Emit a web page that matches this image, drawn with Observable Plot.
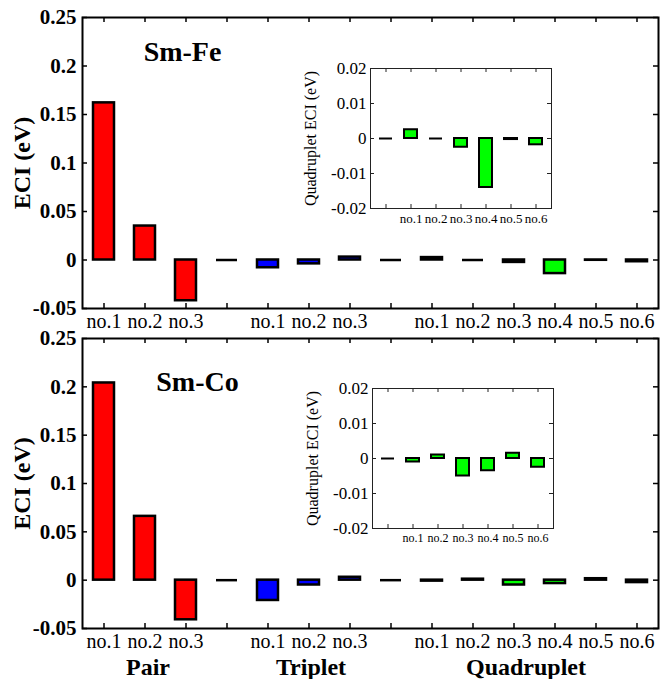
<!DOCTYPE html>
<html><head><meta charset="utf-8">
<script src="https://cdn.jsdelivr.net/npm/d3@7"></script>
<script src="https://cdn.jsdelivr.net/npm/@observablehq/plot@0.6"></script>
<style>
html,body{margin:0;padding:0;background:#fff;}
#chart{position:relative;width:666px;height:679px;}
#chart svg{position:absolute;overflow:visible;background:transparent;}
#chart svg, #chart svg text, #chart svg g{font-family:"Liberation Serif", "Times New Roman", Times, serif !important;}
</style>
</head><body>
<div id="chart"></div>
<script>
// ---- data ----
const keys = ["P1","P2","P3","G1","T1","T2","T3","G2","Q1","Q2","Q3","Q4","Q5","Q6"];
const tickLabels = ["no.1","no.2","no.3","","no.1","no.2","no.3","","no.1","no.2","no.3","no.4","no.5","no.6"];
const groups = ["Pair","Pair","Pair","gap","Triplet","Triplet","Triplet","gap","Quadruplet","Quadruplet","Quadruplet","Quadruplet","Quadruplet","Quadruplet"];
const smFeECI = [0.162, 0.035, -0.042, 0, -0.008, -0.004, 0.003, 0, 0.0025, 0, -0.0025, -0.014, -0.0003, -0.0018];
const smCoECI = [0.204, 0.066, -0.041, 0, -0.021, -0.005, 0.003, 0, -0.001, 0.001, -0.005, -0.0035, 0.0015, -0.0025];
const groupNames = ["Pair","Triplet","Quadruplet"];
const groupAnchors = ["P2","T2","Q3"];
const groupColors = ["#ff0000","#0000ff","#00ff00"];
const yTicks = [-0.05, 0, 0.05, 0.1, 0.15, 0.2, 0.25];
const insetKeys = ["G0","Q1","Q2","Q3","Q4","Q5","Q6"];
const insetLabels = ["","no.1","no.2","no.3","no.4","no.5","no.6"];
const insetYTicks = [-0.02, -0.01, 0, 0.01, 0.02];
const panelTitles = ["Sm-Fe","Sm-Co"];
const mainYLabel = "ECI (eV)";
const insetYLabel = "Quadruplet ECI (eV)";

const FONT = "Liberation Serif";
const labelOf = new Map(keys.map((k,i)=>[k, tickLabels[i]]));
const insetLabelOf = new Map(insetKeys.map((k,i)=>[k, insetLabels[i]]));
const color = {domain:[...groupNames,"gap"], range:[...groupColors,"none"]};

function mainPanel({values, title, titleDx, titleDy, top, height, marginTop, marginBottom, groupLabels}) {
  const data = keys.map((k,i)=>({key:k, group:groups[i], value:values[i]}));
  const W = 666, ML = 82, MR = 8;
  const innerH = height - marginTop - marginBottom, innerW = W - ML - MR;
  const tk = {stroke:"black", strokeOpacity:1, strokeWidth:1.5};
  const marks = [
    Plot.gridX({...tk, insetTop: innerH-5}),
    Plot.gridX({...tk, insetBottom: innerH-5}),
    Plot.gridY({...tk, ticks: yTicks, insetRight: innerW-5}),
    Plot.gridY({...tk, ticks: yTicks, insetLeft: innerW-5}),
    Plot.barY(data.filter(d=>d.value!==0), {x:"key", y:"value", fill:"group", stroke:"black", strokeWidth:2.5}),
    Plot.tickY(data.filter(d=>d.value===0), {x:"key", y:"value", stroke:"black", strokeWidth:2.5}),
    Plot.frame({stroke:"black", strokeWidth:2}),
    Plot.axisX({tickSize:0, tickPadding:5, fontSize:20, fontFamily:FONT, tickFormat:k=>labelOf.get(k), label:null}),
    Plot.axisY({ticks:yTicks, tickSize:0, tickPadding:6, fontSize:21, fontWeight:"bold", fontFamily:FONT, tickFormat:d=>String(d), label:null}),
    Plot.text([mainYLabel], {frameAnchor:"left", dx:-60, rotate:-90, fontSize:24, fontWeight:"bold", fontFamily:FONT, textAnchor:"middle", lineAnchor:"middle"}),
    Plot.text([title], {frameAnchor:"top-left", dx:titleDx, dy:titleDy, fontSize:28, fontWeight:"bold", fontFamily:FONT, textAnchor:"middle", lineAnchor:"middle"})
  ];
  if (groupLabels) {
    const dxs = [3, 2, 12];
    groupNames.forEach((g,i)=>{
      marks.push(Plot.text([{name:g, anchor:groupAnchors[i]}], {x:"anchor", text:"name", frameAnchor:"bottom", dy:39, dx:dxs[i], fontSize:24, fontWeight:"bold", fontFamily:FONT, lineAnchor:"middle"}));
    });
  }
  const svg = Plot.plot({
    width:W, height, marginLeft:ML, marginRight:MR, marginTop, marginBottom,
    style:{background:"transparent", overflow:"visible", color:"black"},
    x:{type:"band", domain:keys, paddingInner:0.5, paddingOuter:0.25},
    y:{domain:[-0.05,0.25]},
    color,
    marks
  });
  svg.style.left = "0px"; svg.style.top = top+"px";
  return svg;
}

function insetPanel({values, left, top, xFont}) {
  const vals = [0, ...values.slice(8)];
  const data = insetKeys.map((k,i)=>({key:k, group: i===0 ? "gap" : "Quadruplet", value: vals[i]}));
  const W = 270, ML = 80, MR = 9, MT = 8, MB = 27, H = 175;
  const innerH = H-MT-MB, innerW = W-ML-MR;
  const tk = {stroke:"#222", strokeOpacity:1, strokeWidth:1};
  const svg = Plot.plot({
    width:W, height:H, marginLeft:ML, marginRight:MR, marginTop:MT, marginBottom:MB,
    style:{background:"transparent", overflow:"visible", color:"black"},
    x:{type:"band", domain:insetKeys, paddingInner:0.5, paddingOuter:0.25},
    y:{domain:[-0.02,0.02]},
    color,
    marks:[
      Plot.gridX({...tk, insetTop: innerH-4}),
      Plot.gridX({...tk, insetBottom: innerH-4}),
      Plot.gridY({...tk, ticks: insetYTicks, insetRight: innerW-4}),
      Plot.gridY({...tk, ticks: insetYTicks, insetLeft: innerW-4}),
      Plot.frame({stroke:"#222", strokeWidth:1}),
      Plot.barY(data.filter(d=>d.value!==0), {x:"key", y:"value", fill:"group", stroke:"black", strokeWidth:2}),
      Plot.tickY(data.filter(d=>d.value===0), {x:"key", y:"value", stroke:"black", strokeWidth:2}),
      Plot.axisX({tickSize:0, tickPadding:5, fontSize:xFont, fontFamily:FONT, tickFormat:k=>insetLabelOf.get(k), label:null}),
      Plot.axisY({ticks:insetYTicks, tickSize:0, tickPadding:4, fontSize:17, fontFamily:FONT, tickFormat:d=>String(d), label:null}),
      Plot.text([insetYLabel], {frameAnchor:"left", dx:-60, rotate:-90, fontSize:16, fontFamily:FONT, textAnchor:"middle", lineAnchor:"middle"})
    ]
  });
  svg.style.left = left+"px"; svg.style.top = top+"px";
  return svg;
}

const chart = document.getElementById("chart");
chart.append(mainPanel({values:smFeECI, title:panelTitles[0], titleDx:100, titleDy:35, top:0, height:330, marginTop:17, marginBottom:22}));
chart.append(mainPanel({values:smCoECI, title:panelTitles[1], titleDx:115, titleDy:44, top:320, height:359, marginTop:18, marginBottom:51, groupLabels:true}));
chart.append(insetPanel({values:smFeECI, left:290, top:60, xFont:13}));
chart.append(insetPanel({values:smCoECI, left:292, top:380, xFont:12}));
</script>
</body></html>
